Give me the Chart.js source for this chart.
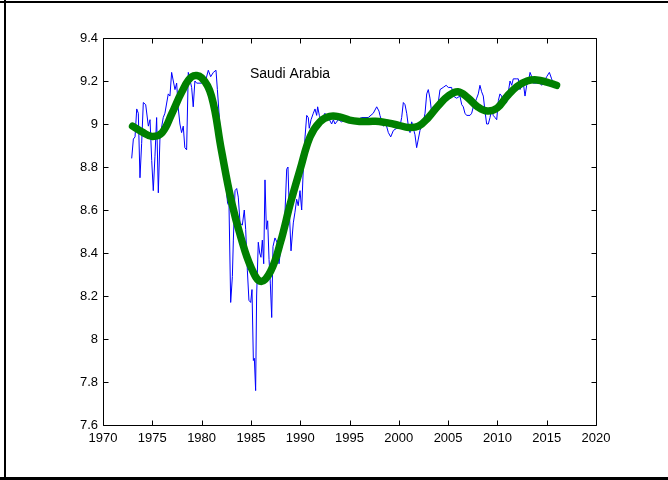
<!DOCTYPE html>
<html>
<head>
<meta charset="utf-8">
<script src="https://cdn.jsdelivr.net/npm/chart.js@4.4.0/dist/chart.umd.min.js"></script>
<style>
  html, body { margin: 0; padding: 0; background: #ffffff; overflow: hidden; }
  #wrap { width: 668px; height: 480px; position: relative; }
  canvas { display: block; }
</style>
</head>
<body>
<div id="wrap"><canvas id="c" width="668" height="480"></canvas></div>
<script>
// ---- data ----
const chartLabel = 'Saudi Arabia';
const xTicks = [1970, 1975, 1980, 1985, 1990, 1995, 2000, 2005, 2010, 2015, 2020];
const yTicks = [7.6, 7.8, 8, 8.2, 8.4, 8.6, 8.8, 9, 9.2, 9.4];
const yTickLabels = ['7.6', '7.8', '8', '8.2', '8.4', '8.6', '8.8', '9', '9.2', '9.4'];

const seriesYears = [
  1972.91, 1973.08, 1973.25, 1973.42, 1973.58, 1973.75, 1973.92, 1974.09, 1974.33, 1974.6,
  1974.77, 1974.94, 1975.1, 1975.27, 1975.44, 1975.61, 1975.78, 1976.11, 1976.28, 1976.62,
  1976.79, 1976.96, 1977.3, 1977.47, 1977.64, 1977.8, 1977.97, 1978.14, 1978.3, 1978.48,
  1978.65, 1978.99, 1979.15, 1979.32, 1979.5, 1980.0, 1980.34, 1980.68, 1980.92, 1981.19,
  1981.46, 1981.6, 1981.8, 1982.04, 1982.27, 1982.47, 1982.64, 1982.78, 1982.95, 1983.12,
  1983.22, 1983.39, 1983.56, 1983.72, 1983.9, 1984.13, 1984.33, 1984.47, 1984.64, 1984.8,
  1984.98, 1985.11, 1985.25, 1985.35, 1985.48, 1985.58, 1985.75, 1985.89, 1986.02, 1986.16,
  1986.3, 1986.43, 1986.57, 1986.7, 1986.84, 1986.97, 1987.11, 1987.24, 1987.44, 1987.65,
  1987.85, 1988.05, 1988.26, 1988.46, 1988.63, 1988.76, 1988.9, 1989.07, 1989.3, 1989.47,
  1989.64, 1989.8, 1989.98, 1990.15, 1990.32, 1990.49, 1990.66, 1990.82, 1990.92, 1991.1,
  1991.33, 1991.5, 1991.67, 1991.77, 1991.94, 1992.1, 1992.28, 1992.5, 1992.85, 1993.19,
  1993.36, 1993.53, 1993.87, 1994.2, 1994.54, 1995.22, 1995.73, 1996.24, 1996.9, 1997.41,
  1997.76, 1997.99, 1998.09, 1998.43, 1998.7, 1998.94, 1999.18, 1999.45, 1999.79, 2000.12,
  2000.29, 2000.46, 2000.63, 2000.8, 2000.97, 2001.14, 2001.31, 2001.47, 2001.64, 2001.81,
  2001.98, 2002.15, 2002.32, 2002.49, 2002.66, 2002.83, 2002.99, 2003.16, 2003.34, 2003.5,
  2003.84, 2004.0, 2004.18, 2004.5, 2004.8, 2005.02, 2005.36, 2005.53, 2005.87, 2006.2,
  2006.38, 2006.54, 2006.71, 2006.88, 2007.22, 2007.39, 2007.56, 2007.73, 2007.9, 2008.06,
  2008.23, 2008.4, 2008.57, 2008.74, 2008.91, 2009.08, 2009.25, 2009.42, 2009.58, 2009.76,
  2009.93, 2010.1, 2010.26, 2010.43, 2010.6, 2010.94, 2011.28, 2011.45, 2011.61, 2011.96,
  2012.12, 2012.29, 2012.63, 2012.8, 2012.97, 2013.13, 2013.31, 2013.48, 2013.64, 2013.98,
  2014.32, 2014.49, 2014.67, 2015.0, 2015.27, 2015.5, 2015.67, 2015.9
];
const seriesValues = [
  8.84, 8.93, 8.94, 9.07, 9.05, 8.75, 8.91, 9.10, 9.09, 8.99,
  9.02, 8.83, 8.69, 8.85, 9.03, 8.68, 8.94, 9.03, 9.05, 9.14,
  9.13, 9.24, 9.16, 9.19, 9.07, 9.00, 8.96, 8.99, 8.89, 8.88,
  9.24, 9.17, 9.08, 9.20, 9.19, 9.19, 9.19, 9.25, 9.22, 9.24,
  9.25, 9.16, 9.03, 8.85, 8.77, 8.71, 8.63, 8.62, 8.17, 8.29,
  8.46, 8.69, 8.70, 8.66, 8.54, 8.53, 8.60, 8.51, 8.32, 8.18,
  8.17, 8.23, 7.90, 7.91, 7.76, 8.20, 8.45, 8.40, 8.38, 8.46,
  8.35, 8.74, 8.51, 8.55, 8.37, 8.26, 8.10, 8.43, 8.47, 8.45,
  8.35, 8.43, 8.51, 8.59, 8.79, 8.80, 8.59, 8.41, 8.54, 8.59,
  8.65, 8.62, 8.69, 8.60, 8.80, 8.94, 9.04, 9.03, 8.98, 9.02,
  9.05, 9.07, 9.04, 9.08, 9.04, 9.02, 9.03, 9.05, 9.03, 9.00,
  9.02, 9.00, 9.02, 9.01, 9.02, 9.03, 9.02, 9.03, 9.03, 9.05,
  9.08, 9.06, 9.04, 8.99, 9.00, 8.96, 8.94, 8.97, 8.98, 8.99,
  9.03, 9.10, 9.09, 9.05, 8.99, 8.96, 9.01, 8.98, 8.95, 8.89,
  8.93, 8.97, 8.99, 9.01, 9.05, 9.14, 9.16, 9.12, 9.05, 9.08,
  9.06, 9.10, 9.16, 9.17, 9.18, 9.17, 9.17, 9.13, 9.12, 9.13,
  9.09, 9.08, 9.05, 9.04, 9.04, 9.05, 9.08, 9.10, 9.12, 9.14,
  9.18, 9.15, 9.13, 9.06, 9.00, 9.00, 9.03, 9.07, 9.04, 9.03,
  9.02, 9.11, 9.14, 9.13, 9.09, 9.10, 9.20, 9.18, 9.21, 9.21,
  9.21, 9.16, 9.19, 9.13, 9.18, 9.19, 9.24, 9.22, 9.19, 9.19,
  9.19, 9.18, 9.19, 9.22, 9.24, 9.21, 9.19, 9.19
];

const trendYears = [
  1973, 1974, 1975, 1976, 1977, 1978, 1979, 1980,
  1981, 1982, 1983, 1984, 1985, 1986, 1987, 1988, 1989,
  1990, 1991, 1992, 1993, 1994, 1995, 1996, 1997, 1998, 1999,
  2000, 2001, 2002, 2003, 2004, 2005, 2006, 2007, 2008, 2009,
  2010, 2011, 2012, 2013, 2014, 2015, 2016
];
const trendValues = [
  8.99, 8.962, 8.942, 8.96, 9.05, 9.15, 9.22, 9.215,
  9.13, 8.88, 8.645, 8.47, 8.335, 8.268, 8.315, 8.45, 8.63,
  8.79, 8.94, 9.01, 9.035, 9.033, 9.018, 9.012, 9.012, 9.012, 9.004,
  8.994, 8.984, 8.99, 9.03, 9.085, 9.13, 9.15, 9.122, 9.08, 9.06,
  9.075, 9.13, 9.175, 9.20, 9.205, 9.195, 9.18
];

// ---- build chart ----
const seriesPoints = seriesYears.map((x, i) => ({ x: x, y: seriesValues[i] }));
const trendPoints = trendYears.map((x, i) => ({ x: x, y: trendValues[i] }));

const FONT = 'Arial, "Liberation Sans", Helvetica, sans-serif';

const matlabAxes = {
  id: 'matlabAxes',
  beforeDraw(chart) {
    const ctx = chart.ctx;
    ctx.save();
    ctx.fillStyle = '#ffffff';
    ctx.fillRect(0, 0, chart.width, chart.height);
    ctx.fillStyle = '#000000';
    // outer figure frame (top, left, bottom)
    ctx.fillRect(0, 1, chart.width, 2);
    ctx.fillRect(4, 0, 2, chart.height);
    ctx.fillRect(0, 477, chart.width, 3);
    ctx.restore();
  },
  afterDatasetsDraw(chart) {
    const ctx = chart.ctx;
    const a = chart.chartArea;
    const xs = chart.scales.x, ys = chart.scales.y;
    ctx.save();
    ctx.strokeStyle = '#000000';
    ctx.lineWidth = 1;
    const L = Math.round(a.left) + 0.5, R = Math.round(a.right) + 0.5;
    const T = Math.round(a.top) + 0.5, B = Math.round(a.bottom) + 0.5;
    ctx.beginPath();
    ctx.rect(L, T, R - L, B - T);
    const tl = 5;
    xTicks.forEach(v => {
      const px = Math.round(xs.getPixelForValue(v)) + 0.5;
      ctx.moveTo(px, B); ctx.lineTo(px, B - tl);
      ctx.moveTo(px, T); ctx.lineTo(px, T + tl);
    });
    yTicks.forEach(v => {
      const py = Math.round(ys.getPixelForValue(v)) + 0.5;
      ctx.moveTo(L, py); ctx.lineTo(L + tl, py);
      ctx.moveTo(R, py); ctx.lineTo(R - tl, py);
    });
    ctx.stroke();
    // in-axes label
    ctx.fillStyle = '#000000';
    ctx.font = '14px ' + FONT;
    ctx.textAlign = 'left';
    ctx.textBaseline = 'middle';
    ctx.fillText(chartLabel, xs.getPixelForValue(1984.9), ys.getPixelForValue(9.23));
    ctx.restore();
  }
};

new Chart(document.getElementById('c'), {
  type: 'scatter',
  data: {
    datasets: [
      {
        label: 'trend',
        data: trendPoints,
        showLine: true,
        borderColor: '#008000',
        backgroundColor: '#008000',
        borderWidth: 7.5,
        borderCapStyle: 'round',
        borderJoinStyle: 'round',
        tension: 0.4,
        pointRadius: 0,
        order: 0
      },
      {
        label: chartLabel,
        data: seriesPoints,
        showLine: true,
        borderColor: '#0000ff',
        backgroundColor: '#0000ff',
        borderWidth: 1,
        tension: 0,
        pointRadius: 0,
        order: 1
      }
    ]
  },
  options: {
    responsive: false,
    animation: false,
    devicePixelRatio: 1,
    layout: { padding: { left: 0, right: 72, top: 38, bottom: 0 } },
    plugins: { legend: { display: false }, tooltip: { enabled: false }, title: { display: false } },
    scales: {
      x: {
        type: 'linear',
        position: 'bottom',
        min: 1970, max: 2020,
        afterBuildTicks: s => { s.ticks = xTicks.map(v => ({ value: v })); },
        afterFit: s => { s.height = 55; },
        grid: { display: false, drawTicks: false },
        border: { display: false },
        ticks: {
          color: '#000000',
          font: { family: FONT, size: 13 },
          padding: 6,
          maxRotation: 0,
          autoSkip: false,
          callback: v => String(v)
        }
      },
      y: {
        type: 'linear',
        min: 7.6, max: 9.4,
        afterBuildTicks: s => { s.ticks = yTicks.map(v => ({ value: v })); },
        afterFit: s => { s.width = 103; },
        grid: { display: false, drawTicks: false },
        border: { display: false },
        ticks: {
          color: '#000000',
          font: { family: FONT, size: 13 },
          padding: 5,
          autoSkip: false,
          callback: v => { const i = yTicks.findIndex(t => Math.abs(t - v) < 1e-9); return i >= 0 ? yTickLabels[i] : ''; }
        }
      }
    }
  },
  plugins: [matlabAxes]
});
</script>
</body>
</html>
